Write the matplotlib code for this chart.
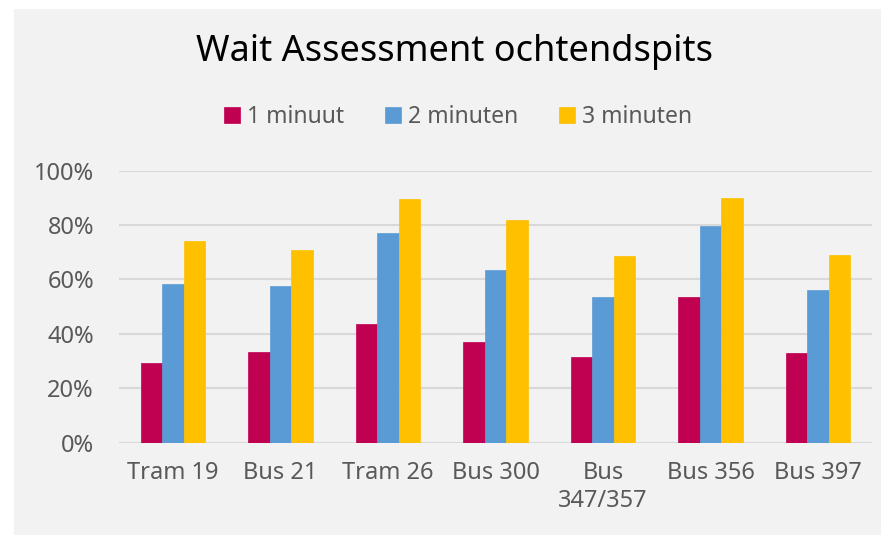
import matplotlib
matplotlib.use("Agg")
import matplotlib.pyplot as plt
import numpy as np
from matplotlib.patches import Rectangle
from matplotlib.ticker import PercentFormatter

plt.rcParams['font.family'] = ['Noto Sans', 'DejaVu Sans']

# data
lines = ['Tram 19', 'Bus 21', 'Tram 26', 'Bus 300', 'Bus\n347/357', 'Bus 356', 'Bus 397']
series = ['1 minuut', '2 minuten', '3 minuten']
een_min = [29.4, 33.3, 43.5, 36.9, 31.5, 53.6, 33.0]
twee_min = [58.5, 57.5, 77.0, 63.4, 53.4, 79.6, 56.0]
drie_min = [74.0, 71.0, 89.6, 82.0, 68.5, 90.0, 69.0]
colors = ['#C00050', '#5B9BD5', '#FFC000']

fig = plt.figure(figsize=(8.81, 5.35), dpi=100)
fig.patch.set_facecolor('white')
# grey chart area with small white margin top/left
fig.patches.append(Rectangle((14/881, 0), 1, 1 - 9/535, transform=fig.transFigure,
                             facecolor='#F2F2F2', edgecolor='none', zorder=-5))

ax = fig.add_axes([119/881, 1 - 442.7/535, 753/881, (442.7 - 170.7)/535])
ax.set_facecolor('none')

x = np.arange(len(lines))
w = 0.2
for i, (vals, lab) in enumerate(zip([een_min, twee_min, drie_min], series)):
    ax.bar(x + (i - 1) * w, vals, w, color=colors[i], label=lab, zorder=3,
           edgecolor=colors[i], linewidth=0.5)

ax.set_xlim(-0.5, len(lines) - 0.5)
ax.set_ylim(0, 100)
ax.set_yticks(np.arange(0, 101, 20))
ax.yaxis.set_major_formatter(PercentFormatter(decimals=0))
ax.grid(axis='y', color='#D9D9D9', linewidth=1.5, zorder=0)
ax.set_axisbelow(True)
for s in ax.spines.values():
    s.set_visible(False)
ax.set_xticks(x)
ax.set_xticklabels(lines, linespacing=1.25)
ax.tick_params(axis='both', length=0, labelsize=17, labelcolor='#595959')
ax.tick_params(axis='y', pad=18)
ax.tick_params(axis='x', pad=13)

fig.text(455/881, 1 - 52/535, 'Wait Assessment ochtendspits', ha='center', va='center',
         fontsize=26, color='black')
fig.legend(loc='center', bbox_to_anchor=(458/881, 1 - 117/535), ncol=3, frameon=False,
           fontsize=16.5, labelcolor='#595959', handlelength=0.7, handleheight=0.7,
           handletextpad=0.3, columnspacing=1.8)

fig.savefig('out.png', dpi=100, facecolor=fig.get_facecolor())
